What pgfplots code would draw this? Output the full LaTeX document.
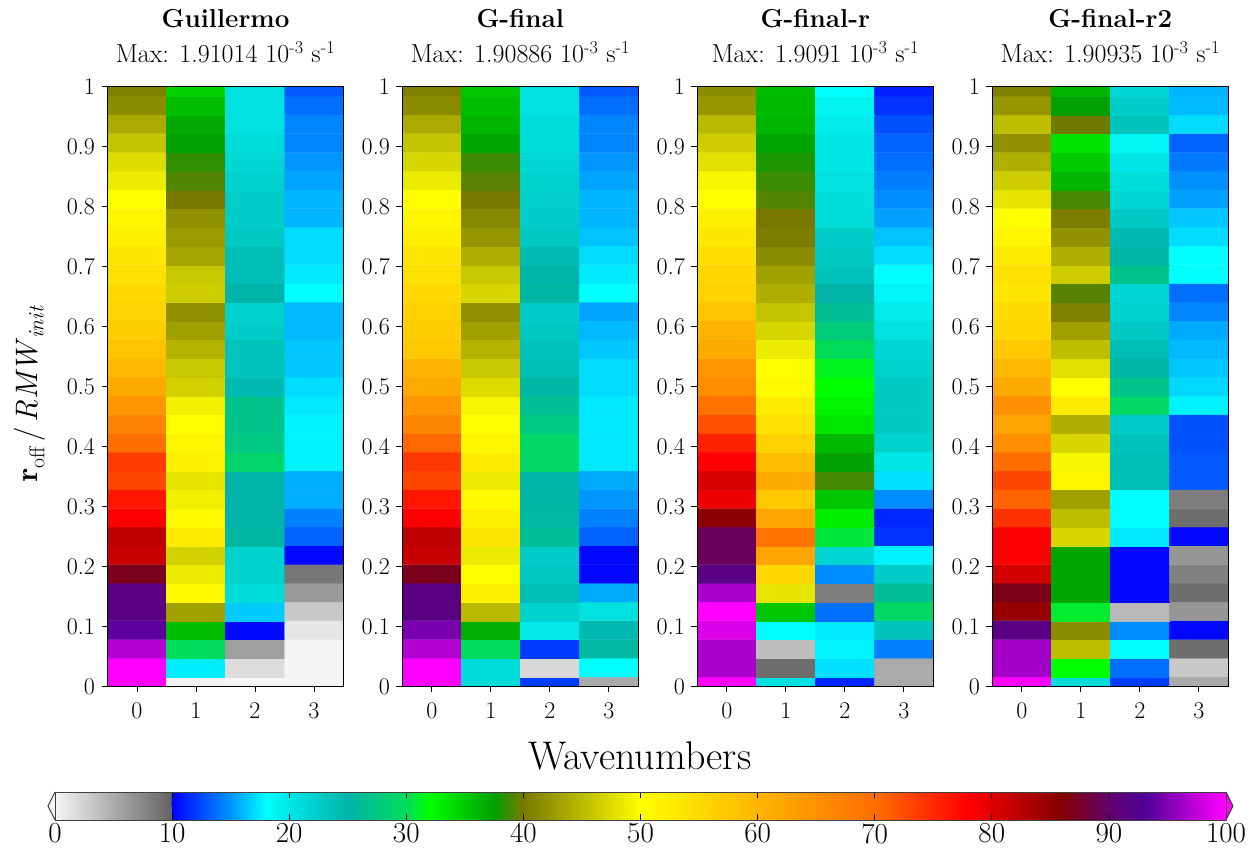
\documentclass[border=0pt]{standalone}
\usepackage{fontspec}
\usepackage{pgfplots}
\pgfplotsset{compat=1.18}
\pgfplotsset{
  colormap={ncl}{rgb255(0pt)=(245,245,245) rgb255(99pt)=(100,100,100) rgb255(100pt)=(0,0,255)
    rgb255(130pt)=(0,90,255) rgb255(150pt)=(0,150,255) rgb255(180pt)=(0,255,255)
    rgb255(200pt)=(0,230,230) rgb255(250pt)=(0,180,170) rgb255(300pt)=(0,220,90)
    rgb255(320pt)=(0,255,0) rgb255(375pt)=(0,160,0) rgb255(400pt)=(120,120,0)
    rgb255(500pt)=(255,255,0) rgb255(600pt)=(255,180,0) rgb255(700pt)=(255,110,0)
    rgb255(780pt)=(255,0,0) rgb255(860pt)=(130,0,0) rgb255(900pt)=(100,0,110)
    rgb255(930pt)=(80,0,150) rgb255(1000pt)=(255,0,255)},
  panel/.style={
    scale only axis, width=236pt, height=599.6pt, anchor=south west,
    xmin=-0.5, xmax=3.5, ymin=0, ymax=32,
    xtick={0,1,2,3},
    ytick={0,3.2,6.4,9.6,12.8,16,19.2,22.4,25.6,28.8,32},
    yticklabels={0,0.1,0.2,0.3,0.4,0.5,0.6,0.7,0.8,0.9,1},
    tick align=outside, xtick pos=bottom, ytick pos=left,
    major tick length=6pt,
    tick style={black, line width=0.8pt},
    axis line style={line width=1.2pt},
    colormap name=ncl, point meta min=0, point meta max=100,
    xticklabel style={font=\fontsize{24}{24}\selectfont, yshift=-7pt},
    yticklabel style={font=\fontsize{24}{24}\selectfont, xshift=-3pt},
    /pgf/number format/assume math mode=true,
    axis on top,
  },
  hmcell/.style={matrix plot*, mesh/rows=33, mesh/cols=4, point meta=explicit},
}
\begin{document}
\begin{tikzpicture}
% ---------- Colorbar (drawn as its own axis)
\begin{axis}[at={(55pt,29pt)}, anchor=south west, scale only axis,
  width=1171pt, height=28pt, clip=false,
  xmin=0, xmax=100, ymin=0, ymax=1,
  colormap name=ncl, point meta min=0, point meta max=100,
  ytick=\empty, xtick={0,10,...,100}, xtick pos=both, xticklabel pos=lower,
  xticklabel style={font=\fontsize{29}{29}\selectfont},
  /pgf/number format/assume math mode=true,
  major tick length=6pt, tick align=inside,
  axis line style={black!75, line width=1pt},
  tick style={black, line width=0.8pt}, axis on top]
\addplot[surf, shader=interp, mesh/rows=2, mesh/cols=20, point meta=x] coordinates {
(0,0) (9.9,0) (10,0) (13,0) (15,0) (18,0) (20,0) (25,0) (30,0) (32,0) (37.5,0) (40,0) (50,0) (60,0) (70,0) (78,0) (86,0) (90,0) (93,0) (100,0)
(0,1) (9.9,1) (10,1) (13,1) (15,1) (18,1) (20,1) (25,1) (30,1) (32,1) (37.5,1) (40,1) (50,1) (60,1) (70,1) (78,1) (86,1) (90,1) (93,1) (100,1)
};
\filldraw[fill={rgb,255:red,245;green,245;blue,245}, draw=black!75, line width=1pt]
  (axis cs:0,0) -- (axis cs:-0.6,0.5) -- (axis cs:0,1);
\filldraw[fill={rgb,255:red,255;green,0;blue,255}, draw=black!75, line width=1pt]
  (axis cs:100,0) -- (axis cs:100.6,0.5) -- (axis cs:100,1);
\end{axis}
% ---------- Panel 1: Guillermo
\begin{axis}[panel, at={(107.5pt,162.7pt)}]
\addplot[hmcell] coordinates {
(0,0)[100] (1,0)[0.3] (2,0)[0] (3,0)[0]
(0,1)[100] (1,1)[17.5] (2,1)[1.7] (3,1)[0]
(0,2)[97] (1,2)[30] (2,2)[5.8] (3,2)[0]
(0,3)[93.5] (1,3)[35.8] (2,3)[10.3] (3,3)[1]
(0,4)[91.5] (1,4)[43] (2,4)[16.5] (3,4)[3.1]
(0,5)[91.5] (1,5)[50.7] (2,5)[21] (3,5)[6.2]
(0,6)[87.1] (1,6)[48.5] (2,6)[22] (3,6)[8.6]
(0,7)[81.5] (1,7)[46.7] (2,7)[22] (3,7)[10.2]
(0,8)[82.2] (1,8)[52.7] (2,8)[25.5] (3,8)[13.3]
(0,9)[78] (1,9)[50.7] (2,9)[25] (3,9)[14.3]
(0,10)[76.5] (1,10)[48.9] (2,10)[25] (3,10)[15.7]
(0,11)[72.9] (1,11)[48.1] (2,11)[25] (3,11)[15.7]
(0,12)[73.6] (1,12)[52] (2,12)[29] (3,12)[17.6]
(0,13)[70] (1,13)[51.3] (2,13)[27.5] (3,13)[17.6]
(0,14)[67.1] (1,14)[50] (2,14)[27] (3,14)[17.6]
(0,15)[64.3] (1,15)[48.9] (2,15)[27] (3,15)[17.4]
(0,16)[61.4] (1,16)[46.7] (2,16)[24.5] (3,16)[17]
(0,17)[59.3] (1,17)[45.9] (2,17)[23.5] (3,17)[16.4]
(0,18)[58] (1,18)[44.4] (2,18)[23.5] (3,18)[16.4]
(0,19)[56.7] (1,19)[43] (2,19)[22.5] (3,19)[16]
(0,20)[55.7] (1,20)[41.9] (2,20)[22] (3,20)[16]
(0,21)[55] (1,21)[46.3] (2,21)[25] (3,21)[18]
(0,22)[54] (1,22)[45.9] (2,22)[24] (3,22)[17.4]
(0,23)[53] (1,23)[43.3] (2,23)[24] (3,23)[17]
(0,24)[52] (1,24)[42.6] (2,24)[23] (3,24)[17]
(0,25)[51.3] (1,25)[41.9] (2,25)[22.5] (3,25)[15.9]
(0,26)[50] (1,26)[40] (2,26)[22.5] (3,26)[15.9]
(0,27)[48.5] (1,27)[39.2] (2,27)[22] (3,27)[15.4]
(0,28)[47.4] (1,28)[38.5] (2,28)[21.5] (3,28)[15]
(0,29)[45.6] (1,29)[37.5] (2,29)[21] (3,29)[14.5]
(0,30)[43.7] (1,30)[36.9] (2,30)[20.5] (3,30)[14.5]
(0,31)[41.5] (1,31)[35.8] (2,31)[20.5] (3,31)[13.7]
(0,32)[40.6] (1,32)[34.6] (2,32)[20.5] (3,32)[13]
};
\end{axis}
% ---------- Panel 2: G-final
\begin{axis}[panel, at={(402.3pt,162.7pt)}]
\addplot[hmcell] coordinates {
(0,0)[100] (1,0)[21] (2,0)[12] (3,0)[5.1]
(0,1)[100] (1,1)[21] (2,1)[2] (3,1)[18]
(0,2)[97] (1,2)[30] (2,2)[12] (3,2)[25.6]
(0,3)[94.6] (1,3)[36.6] (2,3)[19.8] (3,3)[24.5]
(0,4)[91.5] (1,4)[44.8] (2,4)[22] (3,4)[20.5]
(0,5)[91.5] (1,5)[52] (2,5)[24] (3,5)[15.6]
(0,6)[87.1] (1,6)[50] (2,6)[23] (3,6)[10.2]
(0,7)[81.5] (1,7)[48.5] (2,7)[22.5] (3,7)[10.2]
(0,8)[82.2] (1,8)[53.3] (2,8)[26.3] (3,8)[13.3]
(0,9)[78] (1,9)[52] (2,9)[25.6] (3,9)[14.3]
(0,10)[76.5] (1,10)[50.7] (2,10)[25.3] (3,10)[15]
(0,11)[72.9] (1,11)[48.5] (2,11)[25] (3,11)[15.6]
(0,12)[74] (1,12)[52.7] (2,12)[29.4] (3,12)[17.4]
(0,13)[70.4] (1,13)[51.3] (2,13)[29.4] (3,13)[17.4]
(0,14)[66.4] (1,14)[50] (2,14)[27.5] (3,14)[17.4]
(0,15)[64.3] (1,15)[49.3] (2,15)[26.3] (3,15)[17.4]
(0,16)[61.4] (1,16)[47.4] (2,16)[25.3] (3,16)[17]
(0,17)[60] (1,17)[45.9] (2,17)[24] (3,17)[17]
(0,18)[57.3] (1,18)[44.4] (2,18)[23.5] (3,18)[16.4]
(0,19)[56.7] (1,19)[43] (2,19)[23] (3,19)[16]
(0,20)[56] (1,20)[41.9] (2,20)[22.5] (3,20)[15.4]
(0,21)[55] (1,21)[47] (2,21)[25.3] (3,21)[18]
(0,22)[54] (1,22)[45.9] (2,22)[25] (3,22)[17.4]
(0,23)[53.3] (1,23)[44.1] (2,23)[24.3] (3,23)[17]
(0,24)[52] (1,24)[42.2] (2,24)[23] (3,24)[16.3]
(0,25)[51.3] (1,25)[41.1] (2,25)[22.5] (3,25)[15.9]
(0,26)[50] (1,26)[40] (2,26)[22.3] (3,26)[15.9]
(0,27)[48.5] (1,27)[39.4] (2,27)[22] (3,27)[15.4]
(0,28)[47] (1,28)[38.75] (2,28)[21.5] (3,28)[15]
(0,29)[45.6] (1,29)[37.2] (2,29)[21] (3,29)[14.5]
(0,30)[43.7] (1,30)[36.3] (2,30)[21] (3,30)[14.5]
(0,31)[41.5] (1,31)[35.8] (2,31)[20.5] (3,31)[13.7]
(0,32)[40.6] (1,32)[35.2] (2,32)[20.5] (3,32)[13]
};
\end{axis}
% ---------- Panel 3: G-final-r
\begin{axis}[panel, at={(697.3pt,162.7pt)}]
\addplot[hmcell] coordinates {
(0,0)[100] (1,0)[20.5] (2,0)[11.3] (3,0)[5.1]
(0,1)[96.6] (1,1)[9.2] (2,1)[17.1] (3,1)[5.1]
(0,2)[96.6] (1,2)[3.8] (2,2)[17.7] (3,2)[14.3]
(0,3)[98.6] (1,3)[18] (2,3)[17.4] (3,3)[23.5]
(0,4)[100] (1,4)[35.2] (2,4)[13.7] (3,4)[29.5]
(0,5)[96.6] (1,5)[48.1] (2,5)[8.2] (3,5)[26.3]
(0,6)[91.5] (1,6)[55.3] (2,6)[14.7] (3,6)[22.5]
(0,7)[89.3] (1,7)[62.1] (2,7)[21.5] (3,7)[17.6]
(0,8)[89.3] (1,8)[69.3] (2,8)[30.7] (3,8)[11.7]
(0,9)[85.4] (1,9)[62.1] (2,9)[32.9] (3,9)[11.3]
(0,10)[79] (1,10)[57.3] (2,10)[35.2] (3,10)[14.7]
(0,11)[80.6] (1,11)[61.4] (2,11)[38.9] (3,11)[17.1]
(0,12)[78] (1,12)[58.7] (2,12)[37.5] (3,12)[20]
(0,13)[75.5] (1,13)[56] (2,13)[36] (3,13)[22]
(0,14)[72.2] (1,14)[54] (2,14)[33.4] (3,14)[22.8]
(0,15)[69.3] (1,15)[52.7] (2,15)[32.6] (3,15)[22.8]
(0,16)[65.5] (1,16)[50.7] (2,16)[32] (3,16)[22.8]
(0,17)[64.3] (1,17)[50] (2,17)[31.3] (3,17)[22]
(0,18)[61.4] (1,18)[48.5] (2,18)[30] (3,18)[21.5]
(0,19)[60] (1,19)[47] (2,19)[28] (3,19)[20.5]
(0,20)[58] (1,20)[45.6] (2,20)[26.3] (3,20)[19.6]
(0,21)[56] (1,21)[44.1] (2,21)[25] (3,21)[18.7]
(0,22)[55.3] (1,22)[43] (2,22)[23.5] (3,22)[18]
(0,23)[54.3] (1,23)[41.5] (2,23)[23] (3,23)[17]
(0,24)[53] (1,24)[40.4] (2,24)[22.5] (3,24)[16.3]
(0,25)[52] (1,25)[40] (2,25)[21] (3,25)[15.3]
(0,26)[50] (1,26)[39.2] (2,26)[20.8] (3,26)[14.7]
(0,27)[49.3] (1,27)[38.75] (2,27)[20.5] (3,27)[14.2]
(0,28)[47.8] (1,28)[38.1] (2,28)[20] (3,28)[13.7]
(0,29)[46.3] (1,29)[37.2] (2,29)[20] (3,29)[13.3]
(0,30)[44.8] (1,30)[36.3] (2,30)[19.5] (3,30)[12.7]
(0,31)[42.2] (1,31)[36] (2,31)[19] (3,31)[11.7]
(0,32)[41.5] (1,32)[35.8] (2,32)[18] (3,32)[11]
};
\end{axis}
% ---------- Panel 4: G-final-r2
\begin{axis}[panel, at={(992.3pt,162.7pt)}]
\addplot[hmcell] coordinates {
(0,0)[100] (1,0)[21] (2,0)[12] (3,0)[5.1]
(0,1)[96.4] (1,1)[32] (2,1)[13.7] (3,1)[3.1]
(0,2)[96.2] (1,2)[45.2] (2,2)[18] (3,2)[9.2]
(0,3)[91.5] (1,3)[41.5] (2,3)[14.7] (3,3)[10.2]
(0,4)[84.7] (1,4)[31] (2,4)[4.1] (3,4)[6.5]
(0,5)[86.8] (1,5)[37.2] (2,5)[10.2] (3,5)[9.2]
(0,6)[80.9] (1,6)[37.2] (2,6)[10.2] (3,6)[7.9]
(0,7)[78] (1,7)[37.2] (2,7)[10.2] (3,7)[6.5]
(0,8)[78] (1,8)[47] (2,8)[17.4] (3,8)[10.2]
(0,9)[74.4] (1,9)[45.2] (2,9)[18] (3,9)[9.2]
(0,10)[70.7] (1,10)[43] (2,10)[18] (3,10)[8.2]
(0,11)[72.9] (1,11)[51.3] (2,11)[24] (3,11)[13]
(0,12)[70] (1,12)[49.3] (2,12)[24] (3,12)[13]
(0,13)[65] (1,13)[47] (2,13)[23.5] (3,13)[12.7]
(0,14)[62.1] (1,14)[44.1] (2,14)[22.5] (3,14)[12.7]
(0,15)[65] (1,15)[52.7] (2,15)[29.4] (3,15)[17.6]
(0,16)[61.4] (1,16)[50] (2,16)[27] (3,16)[16.9]
(0,17)[59.3] (1,17)[47.8] (2,17)[25.3] (3,17)[16.4]
(0,18)[57.3] (1,18)[45.2] (2,18)[24] (3,18)[16]
(0,19)[55.3] (1,19)[43] (2,19)[23] (3,19)[15.6]
(0,20)[54.7] (1,20)[40.7] (2,20)[22] (3,20)[14.5]
(0,21)[53.3] (1,21)[39.3] (2,21)[21.5] (3,21)[13.7]
(0,22)[54] (1,22)[46.3] (2,22)[26.9] (3,22)[18]
(0,23)[52.7] (1,23)[44.1] (2,23)[25.3] (3,23)[18]
(0,24)[51.3] (1,24)[41.9] (2,24)[24.5] (3,24)[17]
(0,25)[50] (1,25)[40.4] (2,25)[23] (3,25)[16.4]
(0,26)[48.1] (1,26)[39] (2,26)[21.5] (3,26)[15.3]
(0,27)[46.3] (1,27)[36.3] (2,27)[20.8] (3,27)[14.8]
(0,28)[44.1] (1,28)[35] (2,28)[20] (3,28)[14]
(0,29)[41.9] (1,29)[33.7] (2,29)[18.8] (3,29)[13.3]
(0,30)[45.2] (1,30)[39.8] (2,30)[23.5] (3,30)[17]
(0,31)[42.2] (1,31)[37.5] (2,31)[22.5] (3,31)[16.1]
(0,32)[40.6] (1,32)[36.3] (2,32)[21.5] (3,32)[15.9]
};
\end{axis}
% ---------- Titles and labels
\foreach \L/\T/\M in {107.5/Guillermo/1.91014, 402.3/G-final/1.90886, 697.3/G-final-r/1.9091, 992.3/G-final-r2/1.90935}{
  \node[anchor=base, font=\fontsize{26}{26}\selectfont\bfseries] at (\L pt+118pt, 821pt) {\T};
  \node[anchor=base, font=\fontsize{26}{26}\selectfont] at (\L pt+118pt, 786pt) {Max: \M{} 10\textsuperscript{-3} s\textsuperscript{-1}};
}
\node[anchor=base, font=\fontsize{40}{40}\selectfont] at (640pt,80pt) {Wavenumbers};
\node[rotate=90, font=\fontsize{31}{31}\selectfont] at (30pt,455pt)
  {\textbf{r}\textsubscript{off}\,/\,\textit{RMW}\textsubscript{\textit{init}}};
\pgfresetboundingbox
\path[use as bounding box] (0,0) rectangle (1257pt,849pt);
\end{tikzpicture}
\end{document}
